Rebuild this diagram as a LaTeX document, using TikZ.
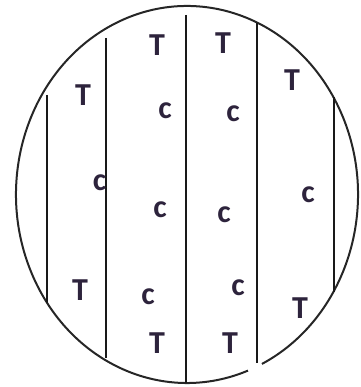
\documentclass[tikz,border=0pt]{standalone}
\usepackage{fontspec}
\setmainfont{Carlito}
\definecolor{ink}{RGB}{45,35,60}
\begin{document}
\begin{tikzpicture}[x=1pt,y=1pt,
  wall/.style={line width=2.5pt,black!90},
  rim/.style={line width=2pt,black!85},
  lt/.style={inner sep=0pt,text=ink,font=\fontsize{32}{32}\selectfont\bfseries}]
\useasboundingbox (0,0) rectangle (360,387);
\coordinate (o) at (187,192.5);
% outer ellipse with a small gap at the bottom right
\draw[rim] (o) ++(296:171 and 188.5) arc[start angle=296,end angle=650.9,x radius=171,y radius=188.5];
% vertical lines
\draw[wall] (47,292) -- (47,84);
\draw[wall] (106,349) -- (106,29);
\draw[wall] (186,372) -- (186,4);
\draw[wall] (257,364) -- (257,24);
\draw[wall] (334,290) -- (334,95);
% letters
\node[lt] (t1) at (157,342) {T};
\node[lt] (t2) at (223,344) {T};
\node[lt] (t3) at (83,292) {T};
\node[lt] (t4) at (292,307) {T};
\node[lt] (c1) at (165,276) {c};
\node[lt] (c2) at (233,273) {c};
\node[lt] (c3) at (99.5,204) {c};
\node[lt] (c4) at (160,177) {c};
\node[lt] (c5) at (224,172) {c};
\node[lt] (c6) at (308,192) {c};
\node[lt] (t5) at (80,97) {T};
\node[lt] (c7) at (148,90) {c};
\node[lt] (c8) at (238,99) {c};
\node[lt] (t6) at (300,79) {T};
\node[lt] (t7) at (157,44) {T};
\node[lt] (t8) at (230,44) {T};
\end{tikzpicture}
\end{document}
